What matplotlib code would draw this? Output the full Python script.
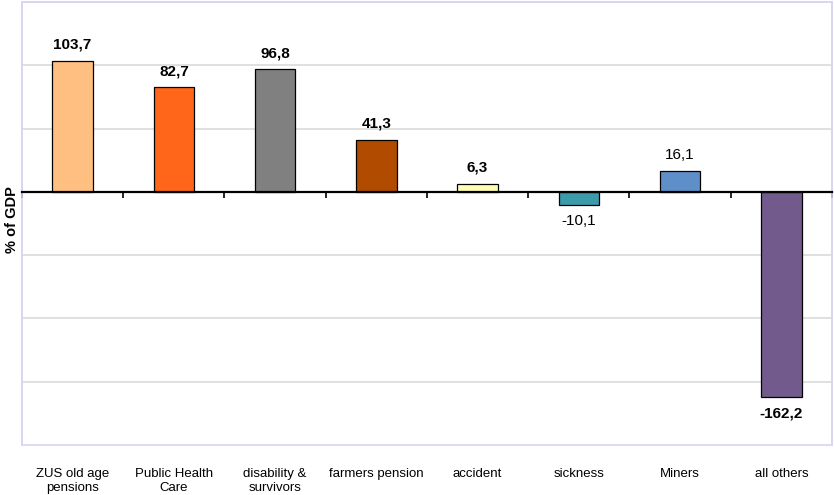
import matplotlib
matplotlib.use("Agg")
import matplotlib.pyplot as plt
import matplotlib.transforms as mtransforms
from matplotlib.patches import Rectangle
import numpy as np

categories = ["ZUS old age\npensions", "Public Health\nCare", "disability &\nsurvivors",
              "farmers pension", "accident", "sickness", "Miners", "all others"]
values = [103.7, 82.7, 96.8, 41.3, 6.3, -10.1, 16.1, -162.2]
labels = ["103,7", "82,7", "96,8", "41,3", "6,3", "-10,1", "16,1", "-162,2"]
bold = [True, True, True, True, True, False, False, True]
colors = ["#FFBF80", "#FF6619", "#808080", "#B04B00", "#FFFFB3", "#3B9BAA", "#5E8FC8", "#735A8C"]

plt.rcParams['font.family'] = ['Liberation Sans', 'DejaVu Sans']

fig = plt.figure(figsize=(8.34, 4.95), dpi=100)
ax = fig.add_axes([22/834, 1-445/495, (832-22)/834, (445-2)/495])

x = np.arange(len(categories))
ax.bar(x, values, width=0.4, color=colors, edgecolor="#000000", linewidth=0.9, zorder=3)

ax.set_xlim(-0.5, len(categories)-0.5)
ax.set_ylim(-200, 150)
ax.set_yticks([-150, -100, -50, 50, 100])
ax.yaxis.grid(True, color="#DADADA", linewidth=1.2, zorder=0)
ax.tick_params(axis='y', length=0, labelleft=False)

# spines
for s in ['top', 'left', 'right']:
    ax.spines[s].set_color("#D6D6F4")
    ax.spines[s].set_linewidth(1.2)
ax.spines['bottom'].set_position(('data', 0))
ax.spines['bottom'].set_color("black")
ax.spines['bottom'].set_linewidth(1.6)
ax.spines['bottom'].set_zorder(4)
ax.add_patch(Rectangle((0, 0), 1, 1, transform=ax.transAxes, fill=False,
                       edgecolor="#D6D6F4", linewidth=1.2, zorder=1, clip_on=False))

ax.set_xticks(x)
ax.set_xticklabels([])
ax.set_xticks(np.arange(-0.5, len(categories)), minor=True)
ax.tick_params(axis='x', which='major', length=0)
ax.tick_params(axis='x', which='minor', length=4, width=1.2, direction='out', color='black')

trans = mtransforms.blended_transform_factory(ax.transData, ax.transAxes)
for xi, c in zip(x, categories):
    ax.text(xi, -0.053, c, transform=trans, ha='center', va='top', fontsize=9.5,
            linespacing=1.12)

for xi, v, lab, b in zip(x, values, labels, bold):
    if v >= 0:
        ax.annotate(lab, (xi, v), xytext=(0, 6.5), textcoords='offset points',
                    ha='center', va='bottom', fontsize=11,
                    fontweight='bold' if b else 'normal')
    else:
        ax.annotate(lab, (xi, v), xytext=(0, -7), textcoords='offset points',
                    ha='center', va='top', fontsize=11,
                    fontweight='bold' if b else 'normal')

fig.text(12/834, 1-220/495, "% of GDP", rotation=90, ha='center', va='center',
         fontsize=10.5, fontweight='bold')

fig.savefig("out.png", dpi=100)
